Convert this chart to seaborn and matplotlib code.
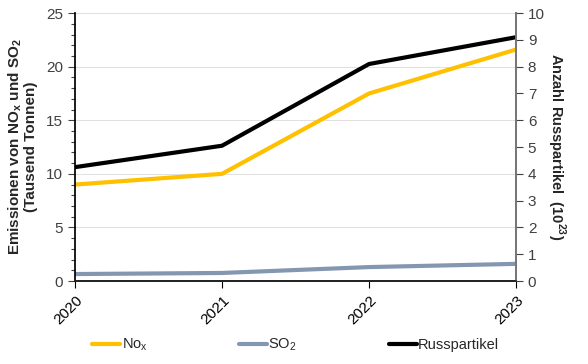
import numpy as np
import pandas as pd
import matplotlib
matplotlib.use('Agg')
import matplotlib.pyplot as plt
import seaborn as sns
from matplotlib.ticker import MultipleLocator

# Daten
jahre = ['2020', '2021', '2022', '2023']
nox = [9.0, 10.0, 17.5, 21.6]
so2 = [0.65, 0.75, 1.3, 1.6]
russ = [4.25, 5.05, 8.1, 9.1]

sns.set_theme(style='white')
plt.rcParams['font.family'] = ['Liberation Sans', 'DejaVu Sans']

df = pd.DataFrame({'Jahr': np.arange(len(jahre)), 'NOx': nox, 'SO2': so2, 'Russ': russ})

fig = plt.figure(figsize=(5.88, 3.64), dpi=100)
ax = fig.add_axes([0.1276, 0.228, 0.75, 0.736])
ax2 = ax.twinx()

c_nox = '#FFC000'
c_so2 = '#8497B0'
c_russ = '#000000'

sns.lineplot(data=df, x='Jahr', y='NOx', ax=ax, color=c_nox, lw=3, label='No$_\\mathregular{x}$', legend=False)
sns.lineplot(data=df, x='Jahr', y='SO2', ax=ax, color=c_so2, lw=3, label='SO$_\\mathregular{2}$', legend=False)
sns.lineplot(data=df, x='Jahr', y='Russ', ax=ax2, color=c_russ, lw=3, label='Russpartikel', legend=False)

ax.set_xlim(0, len(jahre) - 1)
ax.set_ylim(0, 25)
ax2.set_ylim(0, 10)
ax.set_xticks(df['Jahr'])
ax.set_xticklabels(jahre, rotation=45, ha='right', rotation_mode='anchor', fontsize=11)
ax.yaxis.set_major_locator(MultipleLocator(5))
ax.yaxis.set_minor_locator(MultipleLocator(1))
ax2.yaxis.set_major_locator(MultipleLocator(1))
ax.grid(axis='y', which='major', color='#E0E0E0', lw=0.7)
ax.set_axisbelow(True)

ax.tick_params(axis='y', which='major', direction='out', length=5, width=0.8, colors='#404040', labelsize=11, left=True)
ax.tick_params(axis='y', which='minor', direction='out', length=3, width=0.8, color='#404040', left=True)
ax.tick_params(axis='x', direction='out', length=5, width=0.8, colors='black', labelsize=11, bottom=True)
ax2.tick_params(axis='y', direction='out', length=5, width=0.8, colors='#404040', labelsize=11, right=True)
for lab in ax.get_yticklabels() + ax2.get_yticklabels():
    lab.set_color('#404040')

for s in ['top']:
    ax.spines[s].set_visible(False)
    ax2.spines[s].set_visible(False)
ax.spines['left'].set_color('black')
ax.spines['bottom'].set_color('black')
ax2.spines['right'].set_color('#808080')
ax2.spines['left'].set_visible(False)

ax.set_xlabel('')
ax.set_ylabel('Emissionen von NO$_\\mathregular{x}$ und SO$_\\mathregular{2}$\n(Tausend Tonnen)',
              fontsize=11, fontweight='bold', linespacing=1.0, labelpad=6)
ax2.set_ylabel('Anzahl Russpartikel  (10$^\\mathregular{23}$)', fontsize=10.5, fontweight='bold',
               rotation=270, labelpad=16)

h1, l1 = ax.get_legend_handles_labels()
h2, l2 = ax2.get_legend_handles_labels()
fig.legend(h1 + h2, l1 + l2, loc='center', bbox_to_anchor=(0.503, 0.052), ncol=3, frameon=False,
           fontsize=10.5, handlelength=1.9, handletextpad=0.1, columnspacing=6.3)

fig.savefig('out.png', dpi=100)
